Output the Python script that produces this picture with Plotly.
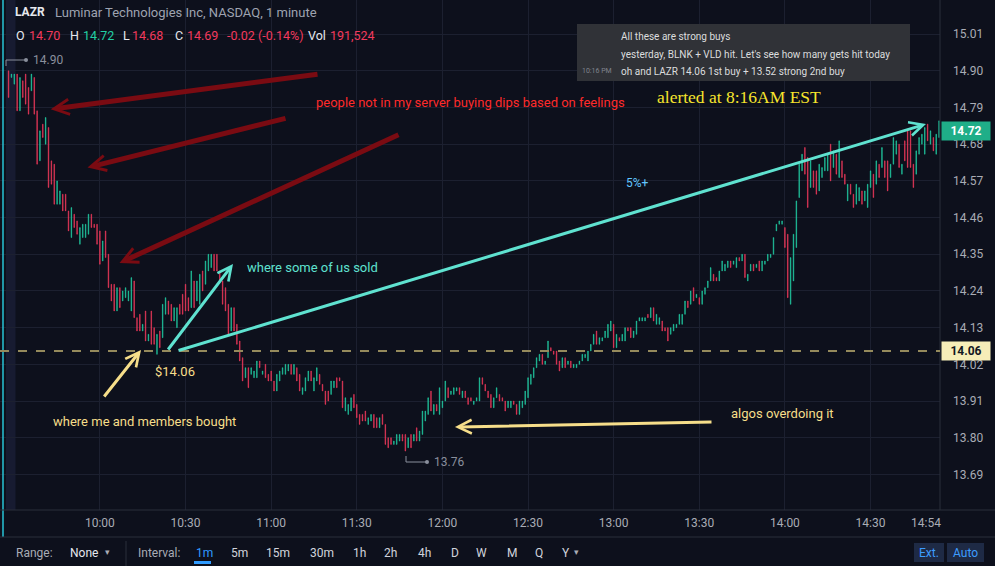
import plotly.graph_objects as go
import pandas as pd

# LAZR 1 minute bars (09:28 pre-market -> 14:54)
day = "2021-03-04"
first_bar = "09:28"

high = [
    14.90, 14.89, 14.89, 14.89, 14.88, 14.87, 14.89, 14.85, 14.89, 14.88,
    14.78, 14.72, 14.74, 14.76, 14.73, 14.63, 14.62, 14.57, 14.54, 14.53,
    14.53, 14.48, 14.49, 14.47, 14.45, 14.43, 14.44, 14.44, 14.47, 14.47,
    14.44, 14.44, 14.42, 14.39, 14.42, 14.35, 14.26, 14.26, 14.25, 14.25,
    14.24, 14.25, 14.24, 14.28, 14.27, 14.16, 14.17, 14.14, 14.18, 14.11,
    14.18, 14.13, 14.11, 14.12, 14.20, 14.22, 14.21, 14.20, 14.19, 14.19,
    14.20, 14.23, 14.26, 14.22, 14.30, 14.27, 14.27, 14.29, 14.30, 14.33,
    14.35, 14.35, 14.35, 14.35, 14.30, 14.27, 14.25, 14.20, 14.19, 14.19,
    14.14, 14.09, 14.04, 14.01, 14.01, 14.01, 14.00, 14.03, 14.03, 14.00,
    14.02, 13.99, 14.00, 13.97, 13.99, 14.00, 14.01, 14.02, 14.02, 14.02,
    14.02, 14.01, 13.99, 13.95, 13.98, 14.00, 14.00, 13.98, 14.01, 13.99,
    13.96, 13.94, 13.94, 13.97, 13.97, 13.98, 13.98, 13.97, 13.92, 13.90,
    13.92, 13.93, 13.90, 13.87, 13.87, 13.88, 13.86, 13.87, 13.87, 13.86,
    13.86, 13.87, 13.84, 13.80, 13.80, 13.79, 13.81, 13.81, 13.81, 13.81,
    13.80, 13.81, 13.81, 13.83, 13.82, 13.88, 13.88, 13.92, 13.94, 13.90,
    13.90, 13.95, 13.91, 13.97, 13.95, 13.94, 13.95, 13.95, 13.95, 13.94,
    13.94, 13.92, 13.92, 13.91, 13.92, 13.98, 13.98, 13.96, 13.94, 13.93,
    13.92, 13.95, 13.93, 13.92, 13.91, 13.91, 13.91, 13.91, 13.90, 13.91,
    13.91, 13.94, 13.98, 13.99, 14.01, 14.04, 14.05, 14.05, 14.03, 14.09,
    14.07, 14.06, 14.06, 14.03, 14.04, 14.04, 14.03, 14.03, 14.02, 14.02,
    14.03, 14.05, 14.05, 14.06, 14.08, 14.11, 14.12, 14.10, 14.10, 14.12,
    14.14, 14.15, 14.14, 14.11, 14.10, 14.11, 14.13, 14.13, 14.13, 14.12,
    14.15, 14.16, 14.16, 14.16, 14.17, 14.19, 14.19, 14.17, 14.16, 14.15,
    14.13, 14.13, 14.13, 14.14, 14.14, 14.17, 14.17, 14.21, 14.21, 14.24,
    14.25, 14.23, 14.22, 14.24, 14.25, 14.27, 14.31, 14.29, 14.28, 14.30,
    14.33, 14.32, 14.33, 14.33, 14.33, 14.34, 14.34, 14.35, 14.35, 14.29,
    14.32, 14.32, 14.32, 14.33, 14.33, 14.33, 14.35, 14.35, 14.40, 14.44,
    14.45, 14.45, 14.43, 14.41, 14.34, 14.41, 14.51, 14.62, 14.65, 14.67,
    14.64, 14.63, 14.60, 14.60, 14.62, 14.61, 14.64, 14.65, 14.68, 14.66,
    14.65, 14.69, 14.63, 14.59, 14.56, 14.56, 14.53, 14.56, 14.55, 14.54,
    14.54, 14.56, 14.60, 14.59, 14.63, 14.62, 14.67, 14.63, 14.63, 14.62,
    14.70, 14.69, 14.68, 14.62, 14.69, 14.72, 14.72, 14.62, 14.66, 14.70,
    14.71, 14.73, 14.74, 14.72, 14.70, 14.71, 14.75,
]
low = [
    14.82, 14.88, 14.86, 14.78, 14.78, 14.82, 14.80, 14.77, 14.84, 14.77,
    14.62, 14.63, 14.70, 14.68, 14.55, 14.56, 14.50, 14.50, 14.50, 14.48,
    14.48, 14.42, 14.40, 14.43, 14.41, 14.38, 14.40, 14.40, 14.41, 14.43,
    14.43, 14.38, 14.32, 14.33, 14.34, 14.25, 14.21, 14.18, 14.18, 14.19,
    14.21, 14.22, 14.21, 14.18, 14.16, 14.12, 14.12, 14.12, 14.09, 14.09,
    14.08, 14.08, 14.05, 14.07, 14.10, 14.17, 14.17, 14.15, 14.15, 14.13,
    14.17, 14.17, 14.18, 14.18, 14.19, 14.19, 14.21, 14.20, 14.24, 14.26,
    14.30, 14.31, 14.30, 14.30, 14.27, 14.20, 14.18, 14.11, 14.12, 14.12,
    14.08, 14.03, 13.97, 13.98, 13.95, 13.99, 13.98, 13.98, 14.01, 13.99,
    13.98, 13.97, 13.97, 13.94, 13.94, 13.97, 13.99, 13.99, 14.00, 13.99,
    13.99, 13.97, 13.94, 13.93, 13.94, 13.97, 13.97, 13.94, 13.97, 13.96,
    13.94, 13.90, 13.91, 13.93, 13.95, 13.95, 13.97, 13.89, 13.88, 13.87,
    13.88, 13.89, 13.86, 13.84, 13.85, 13.85, 13.84, 13.85, 13.83, 13.83,
    13.83, 13.84, 13.78, 13.77, 13.78, 13.78, 13.78, 13.79, 13.79, 13.76,
    13.77, 13.77, 13.79, 13.79, 13.79, 13.81, 13.85, 13.87, 13.88, 13.87,
    13.88, 13.87, 13.89, 13.91, 13.92, 13.93, 13.93, 13.94, 13.93, 13.92,
    13.92, 13.90, 13.91, 13.90, 13.91, 13.91, 13.96, 13.94, 13.92, 13.89,
    13.89, 13.92, 13.91, 13.91, 13.88, 13.89, 13.89, 13.90, 13.87, 13.87,
    13.89, 13.90, 13.92, 13.96, 13.98, 14.01, 14.03, 14.02, 14.02, 14.04,
    14.06, 14.05, 14.02, 14.00, 14.01, 14.01, 14.02, 14.01, 14.01, 14.01,
    14.02, 14.03, 14.04, 14.03, 14.06, 14.08, 14.08, 14.08, 14.09, 14.10,
    14.10, 14.12, 14.07, 14.07, 14.09, 14.09, 14.09, 14.12, 14.10, 14.10,
    14.11, 14.15, 14.15, 14.15, 14.16, 14.16, 14.15, 14.14, 14.14, 14.12,
    14.12, 14.09, 14.11, 14.12, 14.13, 14.14, 14.14, 14.17, 14.19, 14.20,
    14.21, 14.22, 14.20, 14.20, 14.23, 14.25, 14.27, 14.27, 14.27, 14.27,
    14.30, 14.30, 14.31, 14.31, 14.32, 14.31, 14.33, 14.33, 14.28, 14.27,
    14.30, 14.30, 14.31, 14.30, 14.30, 14.32, 14.33, 14.34, 14.35, 14.42,
    14.44, 14.44, 14.37, 14.22, 14.20, 14.27, 14.37, 14.52, 14.60, 14.59,
    14.49, 14.55, 14.55, 14.53, 14.54, 14.58, 14.60, 14.60, 14.57, 14.61,
    14.59, 14.58, 14.58, 14.56, 14.51, 14.53, 14.49, 14.50, 14.51, 14.50,
    14.51, 14.49, 14.55, 14.52, 14.56, 14.58, 14.61, 14.58, 14.54, 14.58,
    14.62, 14.65, 14.61, 14.59, 14.63, 14.61, 14.61, 14.55, 14.59, 14.65,
    14.68, 14.65, 14.69, 14.68, 14.66, 14.65, 14.70,
]
# U = up bar (teal), D = down bar (red)
direction = (
    "DUUDUDDDUD" "DUDUDDDUUD" "DDUDDUUUUD" "DDDUDDDDUD" "UUUUDDDUDU"
    "DDUDUUDDUU" "DDDDUDUUDU" "UUDDDDDDUD" "DDDUDUUUDU" "DDDDUUUUUD"
    "UDDUUUDUUD" "DDDUUDDDUU" "UDDDDDUUDD" "UDDDDUUUDD" "UDUDUUUUDU"
    "DUUUDUUUDU" "DDDUUUDDDD" "UUDDDUUDDU" "UUUUUUUDUU" "DDDDUDUDUU"
    "UUUUUUDUUU" "UUDUDUUDDU" "UUUUDUDUUD" "DDUUUUUUDU" "DUDUUUUDDU"
    "UUUDUUDUDU" "UDUDUUUUUU" "UUDDUUUUUD" "DUDDUUUUDU" "DUDDUDDUUD"
    "UUUDUDUDDU" "UUDUDDDDUU" "UUDUDUU"
)

price_ticks = [15.01, 14.90, 14.79, 14.68, 14.57, 14.46, 14.35, 14.24,
               14.13, 14.02, 13.91, 13.80, 13.69]
time_ticks = ["10:00", "10:30", "11:00", "11:30", "12:00", "12:30",
              "13:00", "13:30", "14:00", "14:30"]
last_price = 14.72
entry_price = 14.06

UP = "#22cfa5"
DOWN = "#f23a5c"
BG = "#0d101c"
GRID = "#1c2030"
AXIS_TXT = "#a9acb5"
FONT = "Roboto"
W, H = 995, 566
PLOT_R = 940   # right edge of the candle pane, px
PLOT_B = 510   # bottom edge of the candle pane, px


def px(x, y):
    # screen pixel -> paper coords
    return x / W, 1 - y / H


times = pd.date_range(f"{day} {first_bar}", periods=len(high), freq="min")
opens = [lo if d == "U" else hi for hi, lo, d in zip(high, low, direction)]
closes = [hi if d == "U" else lo for hi, lo, d in zip(high, low, direction)]

fig = go.Figure()
fig.add_trace(go.Candlestick(
    x=times, open=opens, high=high, low=low, close=closes,
    increasing=dict(line=dict(color=UP, width=0.5), fillcolor=UP),
    decreasing=dict(line=dict(color=DOWN, width=0.5), fillcolor=DOWN),
    hoverinfo="skip", showlegend=False,
))

fig.update_layout(
    width=W, height=H,
    margin=dict(l=0, r=0, t=0, b=0),
    paper_bgcolor=BG, plot_bgcolor=BG,
    showlegend=False,
    boxgap=0.68,
    xaxis=dict(
        domain=[0, PLOT_R / W], type="date",
        range=[f"{day} 09:25:00", f"{day} 14:54:20"],
        rangeslider=dict(visible=False),
        tickvals=[f"{day} {t}" for t in time_ticks], ticktext=time_ticks,
        showgrid=True, gridcolor=GRID, gridwidth=1,
        zeroline=False, showline=False, ticks="",
        ticklabelstandoff=4,
        tickfont=dict(family=FONT, size=12, color=AXIS_TXT),
    ),
    yaxis=dict(
        domain=[1 - PLOT_B / H, 1], side="right",
        range=[13.5834, 15.1122],
        tickvals=price_ticks, ticktext=[f"{p:.2f}" for p in price_ticks],
        showgrid=True, gridcolor=GRID, gridwidth=1,
        zeroline=False, showline=False, ticks="",
        ticklabelstandoff=12,
        tickfont=dict(family=FONT, size=12, color=AXIS_TXT),
    ),
)

# pane borders, pre-market band, session line
x0, y0 = px(6, 0); x1, y1 = px(15.5, PLOT_B)
fig.add_shape(type="rect", xref="paper", yref="paper", x0=x0, x1=x1, y0=y1, y1=y0,
              fillcolor="#171b31", line_width=0, layer="below")
x0, _ = px(3, 0)
fig.add_shape(type="line", xref="paper", yref="paper", x0=x0, x1=x0, y0=1 - 537 / H, y1=1,
              line=dict(color="#27c3d6", width=1.5))
fig.add_shape(type="line", xref="paper", yref="paper", x0=PLOT_R / W, x1=PLOT_R / W,
              y0=1 - PLOT_B / H, y1=1, line=dict(color="#2a2e3b", width=1))
fig.add_shape(type="line", xref="paper", yref="paper", x0=0, x1=1,
              y0=1 - PLOT_B / H, y1=1 - PLOT_B / H, line=dict(color="#2a2e3b", width=1))
fig.add_shape(type="line", xref="paper", yref="paper", x0=0, x1=1,
              y0=1 - 537 / H, y1=1 - 537 / H, line=dict(color="#2a2e3b", width=1))
fig.add_shape(type="line", xref="paper", yref="paper", x0=126 / W, x1=126 / W,
              y0=0, y1=1 - 541 / H, line=dict(color="#2a2e3b", width=1))

# entry level
fig.add_shape(type="line", xref="paper", yref="y", x0=0, x1=PLOT_R / W,
              y0=entry_price, y1=entry_price,
              line=dict(color="#958a5c", width=2, dash="dash"))


def text(s, x, y, color, size=13, family=FONT, anchor="left", **kw):
    xp, yp = px(x, y)
    fig.add_annotation(x=xp, y=yp, xref="paper", yref="paper", text=s,
                       showarrow=False, xanchor=anchor, yanchor="middle",
                       font=dict(family=family, size=size, color=color), **kw)


def arrow(head, tail, color, width, size):
    xp, yp = px(*head)
    fig.add_annotation(x=xp, y=yp, xref="paper", yref="paper", text="",
                       showarrow=True, arrowhead=5, arrowsize=size,
                       arrowwidth=width, arrowcolor=color, standoff=0,
                       ax=tail[0] - head[0], ay=tail[1] - head[1])


# header
text("<b>LAZR</b>", 13, 12, "#e6e8ee", 12)
text("Luminar Technologies Inc, NASDAQ, 1 minute", 53, 12, "#9ea3b0", 13)
for s, x, c in [("O", 14, "#e6e8ee"), ("14.70", 27, DOWN), ("H", 68, "#e6e8ee"),
                ("14.72", 81, UP), ("L", 121, "#e6e8ee"), ("14.68", 130, DOWN),
                ("C", 173, "#e6e8ee"), ("14.69", 185, DOWN),
                ("-0.02 (-0.14%)", 225, DOWN), ("Vol", 306, "#e6e8ee"),
                ("191,524", 328, DOWN)]:
    text(s, x, 35, c, 12.5)

# high / low markers
for (vx, vy0, vy1, hx1, lab, ty) in [(6, 66, 60, 26, "14.90", 60), (406, 456, 462, 427, "13.76", 462)]:
    a, b = px(vx, vy0); c_, d = px(vx, vy1); e, _ = px(hx1, vy1)
    fig.add_shape(type="line", xref="paper", yref="paper", x0=a, x1=c_, y0=b, y1=d,
                  line=dict(color="#8a8f9c", width=1))
    fig.add_shape(type="line", xref="paper", yref="paper", x0=c_, x1=e, y0=d, y1=d,
                  line=dict(color="#8a8f9c", width=1))
    fig.add_shape(type="circle", xref="paper", yref="paper", x0=e - 2 / W, x1=e + 2 / W,
                  y0=d - 2 / H, y1=d + 2 / H, fillcolor="#8a8f9c", line_width=0)
    text(lab, hx1 + 5, ty, "#8a8f9c", 12)

# drawings
MAROON = "#7a0b12"
TEAL = "#5fe2d0"
SAND = "#f6de8a"
arrow((50.7, 109.3), (319, 74), MAROON, 5, 0.6)
arrow((87.5, 167.5), (287, 118), MAROON, 5, 0.6)
arrow((119.5, 263), (400, 134), MAROON, 5, 0.6)
arrow((233, 264), (167, 351), TEAL, 3, 0.9)
arrow((926, 124), (177, 351), TEAL, 3, 0.9)
arrow((141, 350), (103, 398), SAND, 3, 0.9)
arrow((455, 427), (713, 422), SAND, 3, 0.9)

text("people not in my server buying dips based on feelings", 314, 103, "#ff2b2b", 13)
text("alerted at 8:16AM EST", 655, 97, "#f7e52c", 17.5, "Liberation Serif")
text("5%+", 624, 183, "#62c6ff", 12)
text("where some of us sold", 245, 267, TEAL, 13)
text("$14.06", 153, 371, SAND, 13)
text("where me and members bought", 51, 421, SAND, 13)
text("algos overdoing it", 729, 413, SAND, 13)

# pasted chat message
a, b = px(577, 24); c_, d = px(910, 81)
fig.add_shape(type="rect", xref="paper", yref="paper", x0=a, x1=c_, y0=d, y1=b,
              fillcolor="#303237", line_width=0)
text("All these are strong buys", 619, 36, "#dcddde", 10)
text("yesterday, BLNK + VLD hit. Let's see how many gets hit today", 619, 54, "#dcddde", 10)
text("oh and LAZR 14.06 1st buy + 13.52 strong 2nd buy", 619, 71, "#dcddde", 10)
text("10:16 PM", 580, 71, "#80848e", 7)

# price axis labels
for price, bg, fg in [(last_price, "#1fae88", "#ffffff"), (entry_price, "#f6edb8", "#131722")]:
    fig.add_annotation(x=(PLOT_R + 1) / W, y=price, xref="paper", yref="y",
                       text=f"<b>{price:.2f}</b>", showarrow=False,
                       xanchor="left", yanchor="middle", bgcolor=bg,
                       width=46, height=16, borderpad=1, align="center",
                       font=dict(family=FONT, size=12, color=fg))
text("14:54", 926, 523, AXIS_TXT, 12, anchor="center")

# bottom toolbar
text("Range:", 14, 553, "#a9acb5", 12)
text("None", 68, 553, "#e6e8ee", 12)
text("▾", 103, 552, "#a9acb5", 9)
text("Interval:", 136, 553, "#a9acb5", 12)
for s, x in [("5m", 229), ("15m", 264), ("30m", 308), ("1h", 351), ("2h", 382),
             ("4h", 416), ("D", 449), ("W", 474), ("M", 505), ("Q", 533), ("Y", 560)]:
    text(s, x, 553, "#d1d4dc", 12)
text("▾", 572, 552, "#a9acb5", 9)
text("1m", 194, 553, "#2f9bff", 12)
a, b = px(194, 561); c_, d = px(211, 564)
fig.add_shape(type="rect", xref="paper", yref="paper", x0=a, x1=c_, y0=d, y1=b,
              fillcolor="#2f9bff", line_width=0)
for lab, l, r in [("Ext.", 914, 944), ("Auto", 947, 984)]:
    a, b = px(l, 543); c_, d = px(r, 562)
    fig.add_shape(type="rect", xref="paper", yref="paper", x0=a, x1=c_, y0=d, y1=b,
                  fillcolor="#1e2a45", line_width=0)
    text(lab, (l + r) / 2, 553, "#3d9cff", 12, anchor="center")

# the page is shown in a window exactly the figure's size: drop the body margin
fig.write_html("out.html", config={"displayModeBar": False},
               post_script="document.body.style.margin='0';"
                           "document.body.style.overflow='hidden';")
